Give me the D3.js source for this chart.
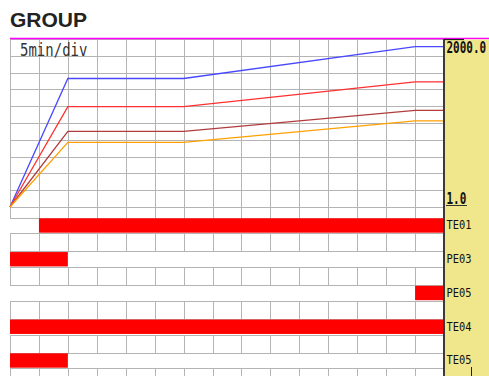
<!DOCTYPE html>
<html><head><meta charset="utf-8">
<script src="https://cdn.jsdelivr.net/npm/d3@7"></script>
<style>
html,body{margin:0;padding:0;background:#fff;}
svg{display:block;}
</style></head>
<body>
<script>
// ---- data ----
const times = [0, 10, 30, 70, 75];               // minutes
const seriesNames = ["S1", "S2", "S3", "S4"];
const blueVals   = [1, 1530, 1530, 1910, 1910];
const redVals    = [1, 1195, 1195, 1490, 1490];
const brownVals  = [1, 900, 900, 1150, 1150];
const orangeVals = [1, 770, 770, 1025, 1025];
const seriesColors = ["#4848ff", "#ff3030", "#b23c3c", "#ffa000"];
const channels   = ["TE01", "PE03", "PE05", "TE04", "TE05"];
const barStarts  = [5, 0, 70, 0, 0];
const barEnds    = [75, 10, 75, 75, 10];
const yTopLabel = "2000.0", yBottomLabel = "1.0";
const scaleLabel = "5min/div";
const title = "GROUP";

// ---- layout ----
const W = 489, H = 376;
const L = 10, R = 444, T = 39, B = 207;
const svg = d3.select("body").append("svg").attr("width", W).attr("height", H);

const x = d3.scaleLinear().domain([0, 75]).range([L, R]);
const y = d3.scaleLinear().domain([1, 2000]).range([B, T]);
const gridColor = "#b4b4b4";
const xTicks = d3.range(0, 76, 5);
const yGridVals = d3.range(0, 11).map(i => 1 + i * 1999 / 10);

// title
svg.append("text").attr("x", 10).attr("y", 27)
  .attr("font-family", "Liberation Sans, Arial, sans-serif")
  .attr("font-weight", "bold").attr("font-size", 21).attr("fill", "#222")
  .text(title);

// upper grid
const g = svg.append("g").attr("shape-rendering", "crispEdges");
g.selectAll("line.h").data(yGridVals).join("line")
  .attr("x1", L).attr("x2", R)
  .attr("y1", d => Math.round(y(d)) + 0.5).attr("y2", d => Math.round(y(d)) + 0.5)
  .attr("stroke", gridColor);
g.selectAll("line.v").data(xTicks).join("line")
  .attr("x1", d => Math.round(x(d)) + 0.5).attr("x2", d => Math.round(x(d)) + 0.5)
  .attr("y1", T).attr("y2", B)
  .attr("stroke", gridColor);

// lower rows
const rowPeriod = 33.75, barH = 15.8, firstBarTop = 217.5;
const barTop = i => firstBarTop + i * rowPeriod;
// grid rows: between bars
const gridRows = [[B, barTop(0)]];
channels.forEach((c, i) => {
  const top = barTop(i) + barH;
  const bot = i < channels.length - 1 ? barTop(i + 1) : H + 2;
  gridRows.push([top, bot]);
});
gridRows.forEach(([t0, t1]) => {
  [t0, t1].forEach(v => {
    if (v <= H) g.append("line").attr("x1", L).attr("x2", R)
      .attr("y1", Math.round(v) + 0.5).attr("y2", Math.round(v) + 0.5)
      .attr("stroke", gridColor);
  });
  xTicks.forEach(t => {
    g.append("line").attr("x1", Math.round(x(t)) + 0.5).attr("x2", Math.round(x(t)) + 0.5)
      .attr("y1", Math.round(t0)).attr("y2", Math.round(t1) + 1)
      .attr("stroke", gridColor);
  });
});

// bars
svg.append("g").selectAll("rect").data(channels).join("rect")
  .attr("x", (d, i) => x(barStarts[i]))
  .attr("width", (d, i) => x(barEnds[i]) - x(barStarts[i]))
  .attr("y", (d, i) => barTop(i) + 0.8)
  .attr("height", barH - 1.4)
  .attr("fill", "#ff0000");

// lines
const allVals = [blueVals, redVals, brownVals, orangeVals];
const line = d3.line().x((d, i) => x(times[i])).y(d => y(d));
svg.append("g").selectAll("path").data(allVals).join("path")
  .attr("d", d => line(d)).attr("fill", "none")
  .attr("stroke", (d, i) => seriesColors[i]).attr("stroke-width", 1.3);

// 5min/div label
svg.append("text").attr("transform", "translate(20,56) scale(1,1.22)")
  .attr("font-family", "DejaVu Sans Mono, monospace").attr("font-size", 14)
  .attr("fill", "#333").text(scaleLabel);

// magenta top line
svg.append("line").attr("x1", L).attr("x2", W).attr("y1", 38.5).attr("y2", 38.5)
  .attr("stroke", "#ff00ff").attr("stroke-width", 1.5);

// right panel
svg.append("rect").attr("x", 445).attr("y", 39.5).attr("width", W - 445).attr("height", H - 39)
  .attr("fill", "#f0e68c");
svg.append("line").attr("x1", 444).attr("x2", 444).attr("y1", 39).attr("y2", H)
  .attr("stroke", "#3a3a3a").attr("stroke-width", 2);
svg.append("line").attr("x1", 444).attr("x2", 464).attr("y1", 39.5).attr("y2", 39.5)
  .attr("stroke", "#222").attr("stroke-width", 1.2);

const mono = "DejaVu Sans Mono, monospace";
svg.append("text").attr("transform", `translate(446.5,${y(2000) + 13.5}) scale(1,1.5)`)
  .attr("font-family", mono).attr("font-size", 11).attr("font-weight", "bold")
  .attr("fill", "#111").text(yTopLabel);
svg.append("text").attr("transform", `translate(446.5,${y(1) - 3}) scale(1,1.4)`)
  .attr("font-family", mono).attr("font-size", 11).attr("font-weight", "bold")
  .attr("fill", "#111").text(yBottomLabel);
svg.append("line").attr("x1", 446).attr("x2", 467).attr("y1", y(1) - 1.5).attr("y2", y(1) - 1.5)
  .attr("stroke", "#333").attr("stroke-width", 1);

svg.append("g").selectAll("text").data(channels).join("text")
  .attr("transform", (d, i) => `translate(446.5,${barTop(i) + barH / 2 + 4}) scale(1,1.18)`)
  .attr("font-family", mono).attr("font-size", 10.4)
  .attr("fill", "#111").text(d => d);

// small cursor tick
svg.append("line").attr("x1", 471.5).attr("x2", 471.5).attr("y1", 367).attr("y2", H)
  .attr("stroke", "#222").attr("stroke-width", 1);
</script>
</body></html>
